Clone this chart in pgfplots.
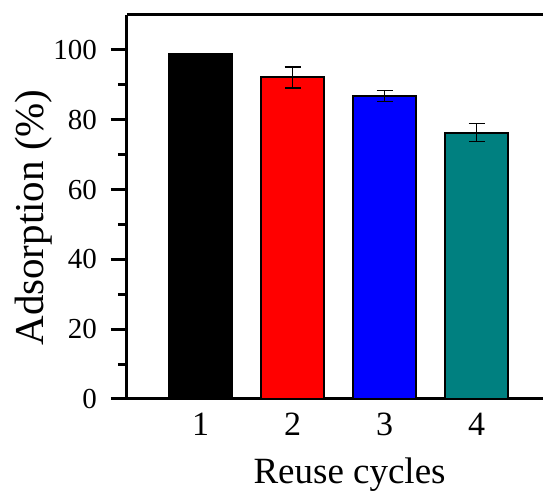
\documentclass[border=0pt]{standalone}
\usepackage{fontspec}
\setmainfont{Liberation Serif}
\usepackage{pgfplots}
\pgfplotsset{compat=1.18}
\definecolor{tealbar}{RGB}{0,128,128}
\begin{document}
\begin{tikzpicture}
\begin{axis}[
  at={(0,0)}, anchor=south west,
  scale only axis, width=416pt, height=384pt,
  xmin=0.2, xmax=4.72, ymin=0, ymax=110,
  axis x line*=box, axis y line*=left,
  axis line style={line width=3pt},
  xtick={1,2,3,4},
  x tick style={draw=none},
  ytick={0,20,40,60,80,100},
  minor y tick num=1,
  tick align=outside,
  y tick style={line width=3pt, black},
  major tick length=16pt, minor tick length=9pt,
  /pgf/number format/assume math mode=true,
  yticklabel style={font=\fontsize{29}{29}\selectfont, anchor=east, inner sep=0pt, xshift=-14pt},
  xticklabel style={font=\fontsize{34}{34}\selectfont, anchor=north, inner sep=0pt, yshift=2pt},
  xlabel={Reuse cycles}, ylabel={Adsorption (\%)},
  xlabel style={font=\fontsize{37}{37}\selectfont, at={(axis description cs:0.535,-0.219)}, anchor=base},
  ylabel style={font=\fontsize{41}{41}\selectfont, at={(axis description cs:-0.224,0.4727)}, anchor=center},
  ybar, bar width=63pt, bar shift=0pt,
  clip=false,
]
\addplot[fill=black, draw=black, line width=2pt] coordinates {(1,98.9)};
\addplot[fill=red, draw=black, line width=2pt,
  error bars/.cd, y dir=both, y explicit,
  error bar style={line width=1.5pt, black},
  error mark options={rotate=90, mark size=8pt, line width=1.5pt, black}]
  coordinates {(2,92.1) +- (0,3.0)};
\addplot[fill=blue, draw=black, line width=2pt,
  error bars/.cd, y dir=both, y explicit,
  error bar style={line width=1.5pt, black},
  error mark options={rotate=90, mark size=8pt, line width=1.5pt, black}]
  coordinates {(3,86.8) +- (0,1.6)};
\addplot[fill=tealbar, draw=black, line width=2pt,
  error bars/.cd, y dir=both, y explicit,
  error bar style={line width=1.5pt, black},
  error mark options={rotate=90, mark size=8pt, line width=1.5pt, black}]
  coordinates {(4,76.3) +- (0,2.6)};
\end{axis}
\pgfresetboundingbox
\path[use as bounding box] (-127pt,-98pt) rectangle (416pt,399pt);
\end{tikzpicture}
\end{document}
